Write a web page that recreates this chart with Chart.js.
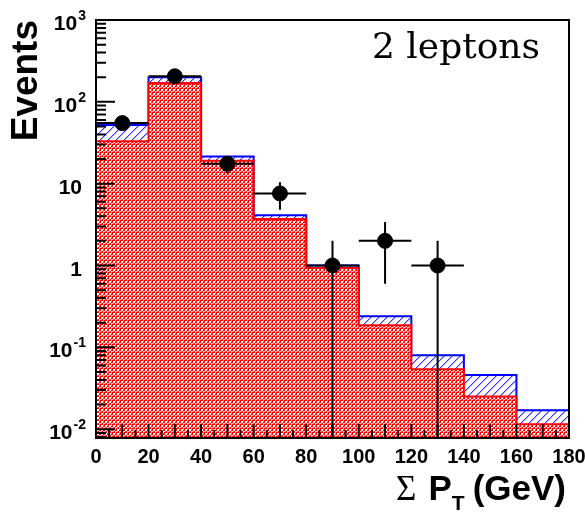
<!DOCTYPE html>
<html>
<head>
<meta charset="utf-8">
<script src="https://cdn.jsdelivr.net/npm/chart.js@4.4.0/dist/chart.umd.min.js"></script>
<style>
html, body { margin: 0; padding: 0; background: #fff; }
</style>
</head>
<body>
<canvas id="myChart" width="585" height="515"></canvas>
<script>
// histogram bins (GeV)
const binEdges = [0, 20, 40, 60, 80, 100, 120, 140, 160, 180];
// blue hatched = total prediction, red cross-hatched = its main part
const totalMC = [52, 200, 21.5, 4.1, 1.0, 0.24, 0.080, 0.046, 0.017];
const redMC = [33, 170, 19, 3.7, 0.93, 0.186, 0.054, 0.025, 0.0115];
// data points
const dataX = [10, 30, 50, 70, 90, 110, 130];
const dataY = [55, 205, 17.5, 7.6, 1, 2, 1];
const dataErr = [7.4, 14.3, 4.2, 2.8, 1, 1.4, 1];
// axis labels
const yDecades = [0.01, 0.1, 1, 10, 100, 1000];
const yLabels = [['10', '-2'], ['10', '-1'], ['1', ''], ['10', ''], ['10', '2'], ['10', '3']];
const xTickStep = 20;

const SANS = '"Liberation Sans", Arial, Helvetica, sans-serif';

function redPattern() {
    const c = document.createElement('canvas');
    c.width = 4; c.height = 4;
    const g = c.getContext('2d');
    g.fillStyle = 'rgb(255,0,0)';
    g.fillRect(0, 0, 4, 4);
    g.fillStyle = '#fff';
    g.fillRect(1, 1, 2, 2);
    g.fillRect(3, 3, 1, 1);
    g.fillStyle = 'rgb(255,200,200)';
    g.fillRect(0, 3, 1, 1);
    g.fillRect(3, 0, 1, 1);
    g.fillStyle = 'rgb(255,120,120)';
    g.fillRect(1, 3, 1, 1);
    g.fillRect(3, 1, 1, 1);
    return g.createPattern(c, 'repeat');
}
function bluePattern() {
    const c = document.createElement('canvas');
    c.width = 8; c.height = 8;
    const g = c.getContext('2d');
    g.fillStyle = '#fff';
    g.fillRect(0, 0, 8, 8);
    g.fillStyle = 'rgb(50,50,255)';
    for (let i = 0; i < 8; i++) g.fillRect(i, 7 - i, 1, 1);
    g.fillStyle = 'rgb(170,170,255)';
    for (let i = 0; i < 8; i++) g.fillRect(i, (8 - i) % 8, 1, 1);
    return g.createPattern(c, 'repeat');
}

function histPoints(vals) {
    return binEdges.map((x, i) => ({x: x, y: vals[Math.min(i, vals.length - 1)]}));
}

const decorations = {
    id: 'decorations',
    afterDatasetsDraw(chart) {
        const ctx = chart.ctx, xs = chart.scales.x, ys = chart.scales.y, a = chart.chartArea;
        ctx.save();
        ctx.beginPath();
        ctx.rect(a.left, a.top, a.right - a.left, a.bottom - a.top);
        ctx.clip();
        ctx.strokeStyle = '#000';
        ctx.lineWidth = 2;
        dataX.forEach((x, i) => {
            const px = xs.getPixelForValue(x);
            const py = ys.getPixelForValue(dataY[i]);
            const lo = dataY[i] - dataErr[i];
            const pLo = lo > 0 ? ys.getPixelForValue(lo) : a.bottom + 5;
            const pHi = ys.getPixelForValue(dataY[i] + dataErr[i]);
            ctx.beginPath();
            ctx.moveTo(xs.getPixelForValue(x - 10), py);
            ctx.lineTo(xs.getPixelForValue(x + 10), py);
            ctx.moveTo(px, pLo);
            ctx.lineTo(px, pHi);
            ctx.stroke();
        });
        ctx.restore();
    },
    afterDraw(chart) {
        const ctx = chart.ctx, xs = chart.scales.x, ys = chart.scales.y, a = chart.chartArea;
        ctx.save();
        ctx.strokeStyle = '#000';
        ctx.lineWidth = 2;
        // inward ticks
        ctx.beginPath();
        for (let v = 0; v <= 180; v += 5) {
            const px = xs.getPixelForValue(v);
            const len = v % 10 === 0 ? 14 : 8;
            ctx.moveTo(px, a.bottom);
            ctx.lineTo(px, a.bottom - len);
        }
        for (let e = -3; e <= 2; e++) {
            for (let m = 1; m <= 9; m++) {
                const v = m * Math.pow(10, e);
                if (v < ys.min || v > ys.max) continue;
                const py = ys.getPixelForValue(v);
                const len = m === 1 ? 19 : 10;
                ctx.moveTo(a.left, py);
                ctx.lineTo(a.left + len, py);
            }
        }
        ctx.stroke();
        // frame
        ctx.strokeRect(a.left, a.top, a.right - a.left, a.bottom - a.top);

        // y labels with exponents
        ctx.fillStyle = '#000';
        ctx.textBaseline = 'alphabetic';
        yDecades.forEach((v, i) => {
            const py = ys.getPixelForValue(v);
            const [base, exp] = yLabels[i];
            const right = 86;
            ctx.font = 'bold 14px ' + SANS;
            const ew = exp ? ctx.measureText(exp).width : 0;
            if (exp) {
                ctx.textAlign = 'right';
                ctx.fillText(exp, right, py);
            }
            ctx.font = 'bold 21px ' + SANS;
            ctx.textAlign = 'right';
            ctx.fillText(base, right - ew - (exp ? 1 : 4), py + 10);
        });

        // x title: Sigma P_T (GeV)
        const parts = [
            {t: '\u03A3', f: '35px "Liberation Serif", serif', dy: 0, gap: 12},
            {t: 'P', f: 'bold 35px ' + SANS, dy: 0, gap: 0},
            {t: 'T', f: 'bold 21px ' + SANS, dy: 10, gap: 8},
            {t: '(GeV)', f: 'bold 35px ' + SANS, dy: 0, gap: 0}
        ];
        let total = 0;
        parts.forEach(p => { ctx.font = p.f; p.w = ctx.measureText(p.t).width; total += p.w + p.gap; });
        let x = a.right - 3 - total;
        const base = a.bottom + 62;
        ctx.textAlign = 'left';
        parts.forEach(p => { ctx.font = p.f; ctx.fillText(p.t, x, base + p.dy); x += p.w + p.gap; });

        // label inside the frame
        ctx.font = '36px "DejaVu Serif", serif';
        ctx.textAlign = 'right';
        ctx.fillText('2 leptons', 540, 58);
        ctx.restore();
    }
};

new Chart(document.getElementById('myChart'), {
    type: 'line',
    data: {
        datasets: [{
            label: 'data',
            data: dataX.map((x, i) => ({x: x, y: dataY[i]})),
            showLine: false,
            pointRadius: 7.5,
            pointHoverRadius: 7.5,
            pointBackgroundColor: '#000',
            pointBorderColor: '#000',
            order: 0
        }, {
            label: 'red',
            data: histPoints(redMC),
            stepped: true,
            borderColor: 'rgb(255,0,0)',
            borderWidth: 2,
            backgroundColor: redPattern(),
            fill: 'start',
            pointRadius: 0,
            order: 1
        }, {
            label: 'total',
            data: histPoints(totalMC),
            stepped: true,
            borderColor: 'rgb(0,0,255)',
            borderWidth: 2,
            backgroundColor: bluePattern(),
            fill: 'start',
            pointRadius: 0,
            order: 2
        }]
    },
    options: {
        responsive: false,
        animation: false,
        layout: {padding: {top: 20, right: 16, bottom: 0, left: 0}},
        plugins: {legend: {display: false}, tooltip: {enabled: false}},
        scales: {
            x: {
                type: 'linear',
                min: 0,
                max: 180,
                grid: {display: false},
                border: {display: false},
                ticks: {stepSize: xTickStep, color: '#000', padding: -1, maxRotation: 0,
                    font: {family: SANS, size: 20, weight: 'bold'}},
                afterFit(scale) { scale.height = 77; scale.paddingLeft = 0; scale.paddingRight = 0; }
            },
            y: {
                type: 'logarithmic',
                min: 0.0078,
                max: 1000,
                grid: {display: false},
                border: {display: false},
                ticks: {display: false},
                title: {display: true, text: 'Events', align: 'end', color: '#000',
                    padding: {top: 5, bottom: 0},
                    font: {family: SANS, size: 37, weight: 'bold'}},
                afterFit(scale) { scale.width = 96; }
            }
        }
    },
    plugins: [decorations]
});
</script>
</body>
</html>
